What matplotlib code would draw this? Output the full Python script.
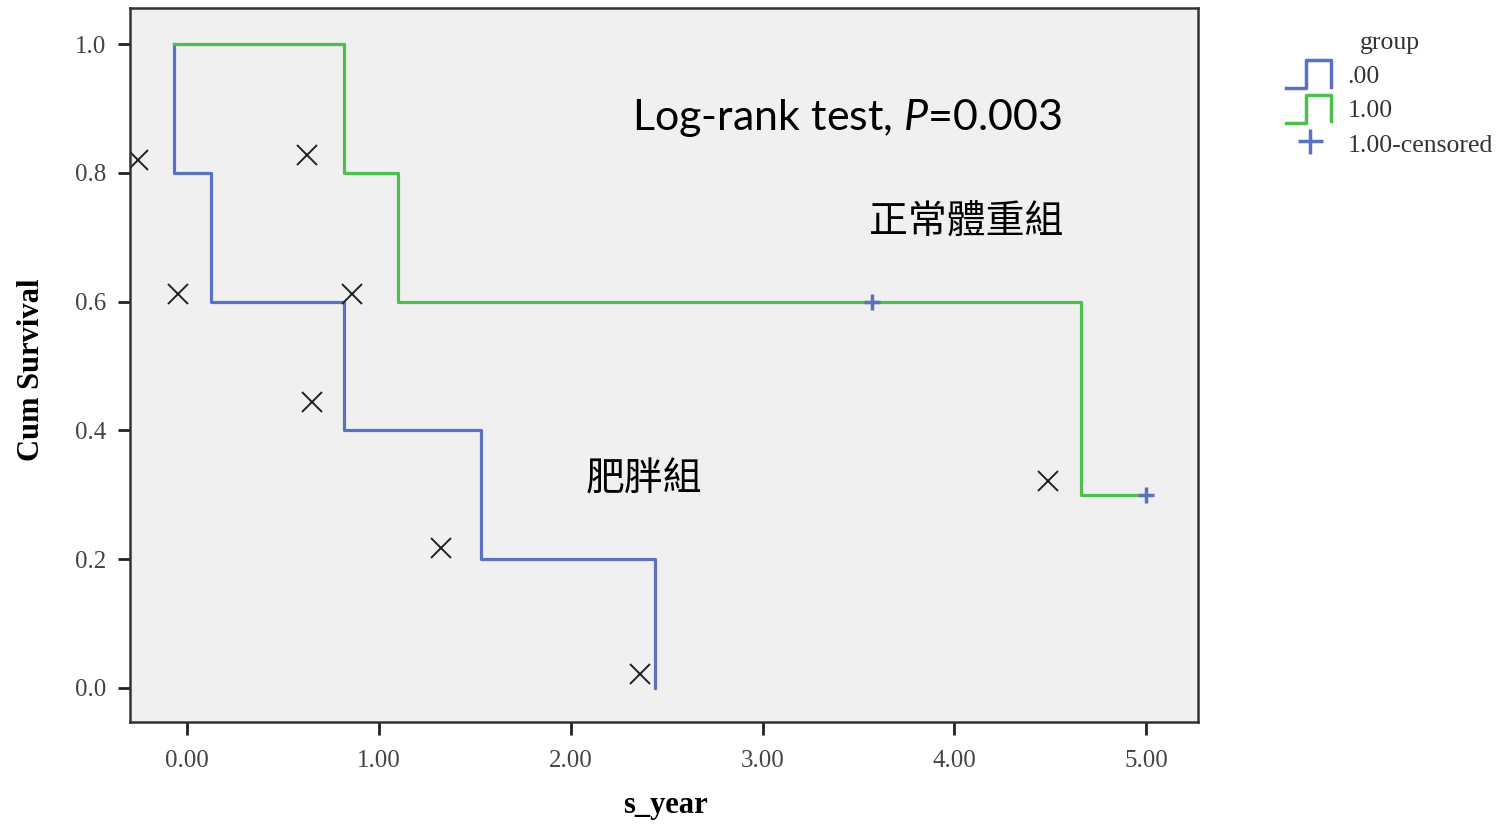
import numpy as np
import matplotlib
matplotlib.use('Agg')
import matplotlib.pyplot as plt
from matplotlib.lines import Line2D
from matplotlib.legend_handler import HandlerBase

# step curves (Kaplan-Meier)
BLUE_X = [-0.07, -0.07, 0.125, 0.82, 1.53, 2.44]
BLUE_Y = [1.0, 0.8, 0.6, 0.4, 0.2, 0.0]
GREEN_X = [-0.07, 0.82, 1.10, 4.66, 5.0]
GREEN_Y = [1.0, 0.8, 0.6, 0.3, 0.3]

# censored points of group 1.00
CENS_X = [3.57, 5.0]
CENS_Y = [0.6, 0.3]

# black crosses scattered on the plot
CROSS_X = [-0.255, 0.626, -0.047, 0.860, 0.652, 1.324, 2.362, 4.489]
CROSS_Y = [0.820, 0.828, 0.612, 0.612, 0.444, 0.217, 0.022, 0.321]

X_TICKS = [0, 1, 2, 3, 4, 5]
Y_TICKS = [0.0, 0.2, 0.4, 0.6, 0.8, 1.0]

BLUE = '#5a72c4'
GREEN = '#4cbf4c'
SERIF = 'Liberation Serif'

plt.rcParams['mathtext.fontset'] = 'custom'
plt.rcParams['mathtext.rm'] = 'Lato'
plt.rcParams['mathtext.it'] = 'Lato:italic'


class StepHandler(HandlerBase):
    # small step icon like the SPSS legend
    def create_artists(self, legend, orig_handle, xdescent, ydescent,
                       width, height, fontsize, trans):
        xs = np.array([0, 0.42, 0.42, 0.95, 0.95]) * width - xdescent
        ys = np.array([0, 0, 1, 1, 0.05]) * height - ydescent
        ln = Line2D(xs, ys, color=orig_handle.get_color(),
                    lw=orig_handle.get_linewidth())
        ln.set_transform(trans)
        return [ln]


fig = plt.figure(figsize=(15.08, 8.26), dpi=100)
ax = fig.add_axes([130/1508, 1-722/826, 1068/1508, 714/826])
ax.set_facecolor('#f0f0f0')

ax.step(BLUE_X, BLUE_Y, where='post', color=BLUE, lw=2.3)
ax.step(GREEN_X, GREEN_Y, where='post', color=GREEN, lw=2.3)
ax.plot(CENS_X, CENS_Y, '+', color=BLUE, ms=11, mew=2.5, ls='none')
ax.plot(CROSS_X, CROSS_Y, 'x', color='#222222', ms=15, mew=1.4, ls='none')

ax.set_xlim(-0.297, 5.27)
ax.set_ylim(-0.053, 1.056)

ax.set_xticks(X_TICKS)
ax.set_xticklabels(['%.2f' % t for t in X_TICKS], family=SERIF,
                   fontsize=18, color='#444444')
ax.set_yticks(Y_TICKS)
ax.set_yticklabels(['%.1f' % t for t in Y_TICKS], family=SERIF,
                   fontsize=18, color='#444444')
ax.tick_params(axis='both', length=9, width=2, color='#222222')
ax.tick_params(axis='x', pad=11)
ax.tick_params(axis='y', pad=8)

for s in ax.spines.values():
    s.set_linewidth(1.8)
    s.set_color('#333333')

ax.set_ylabel('Cum Survival', family=SERIF, fontweight='bold', fontsize=22)
ax.yaxis.set_label_coords(-0.079, 0.493)
ax.set_xlabel('s_year', family=SERIF, fontweight='bold', fontsize=22)
ax.xaxis.set_label_coords(0.501, -0.097)

ax.text(2.32, 0.885, r'Log-rank test, $\it{P}$=0.003', family='Lato',
        fontsize=31, ha='left', va='center', color='black')
ax.text(4.06, 0.724, '正常體重組', family=['Noto Sans CJK TC', 'DejaVu Sans'],
        fontsize=28, ha='center', va='center', color='black')
ax.text(2.38, 0.323, '肥胖組', family=['Noto Sans CJK TC', 'DejaVu Sans'],
        fontsize=28, ha='center', va='center', color='black')

h_blue = Line2D([], [], color=BLUE, lw=2.5)
h_green = Line2D([], [], color=GREEN, lw=2.5)
h_cens = Line2D([], [], marker='+', color=BLUE, ms=18, mew=2.5, ls='none')
leg = fig.legend([h_blue, h_green, h_cens], ['.00', '1.00', '1.00-censored'],
                 title='group', loc='upper left',
                 bbox_to_anchor=(1268/1508, 1-14/826),
                 bbox_transform=fig.transFigure, frameon=False,
                 prop={'family': SERIF, 'size': 18.5},
                 title_fontproperties={'family': SERIF, 'size': 18.5},
                 handlelength=1.85, handleheight=1.3, labelspacing=0.25,
                 handletextpad=0.55, borderpad=0.2,
                 handler_map={h_blue: StepHandler(), h_green: StepHandler()})
for t in leg.get_texts():
    t.set_color('#333333')
leg.get_title().set_color('#333333')

fig.savefig('out.png', dpi=100, facecolor='white')
